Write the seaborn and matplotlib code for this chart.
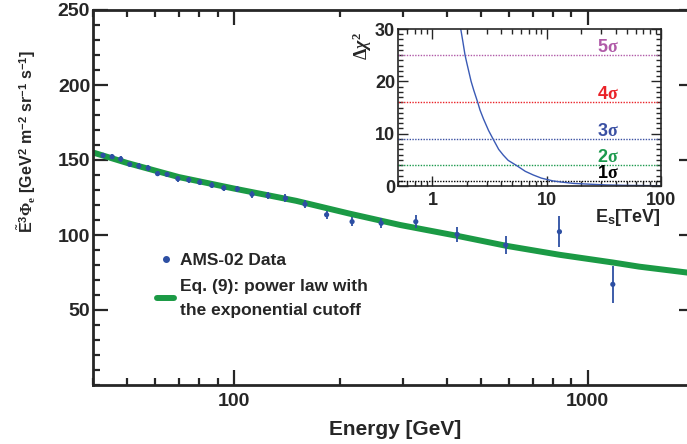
# AMS-02 electron+positron flux with power-law + exponential cutoff fit,
# inset: delta chi^2 vs cutoff energy

import matplotlib.pyplot as plt
import matplotlib.ticker as mticker
from matplotlib.lines import Line2D
import numpy as np
import pandas as pd
import seaborn as sns

# data
energy = [42.7, 45.3, 47.9, 50.8, 53.9, 57.3, 60.9, 64.8, 69.5, 74.6, 80.1, 86.7, 93.7,
          102.4, 112.6, 125, 140, 159, 183, 216, 261, 327, 428, 587, 833, 1179]
flux = [153.1, 152.2, 150.7, 147.1, 146.0, 144.7, 140.9, 140.4, 137.5, 136.7, 135.1, 133.1, 131.3,
        130.7, 127.1, 126.2, 124.5, 120.5, 113.5, 108.9, 107.8, 108.9, 100.4, 93.3, 102.2, 67.1]
flux_err = [1.8, 1.8, 1.8, 1.8, 1.8, 1.8, 1.9, 1.9, 1.9, 2.0, 2.0, 2.0, 2.1,
            2.1, 2.2, 2.3, 2.5, 2.6, 2.8, 3.0, 3.2, 4.1, 4.8, 6.3, 10.4, 12.3]

fit_energy = [40, 50, 70, 100, 150, 212, 295, 429, 589, 834, 1177, 1400, 2000]
fit_flux = [155, 148, 138.6, 131, 122.8, 114.3, 106.7, 99.4, 92.8, 86.8, 81.7, 78.9, 74.4]

es_tev = [1.65, 1.77, 1.85, 1.93, 2.0, 2.18, 2.3, 2.49, 2.61, 2.8, 3.1, 3.41, 3.8, 4.17, 4.6,
          5.46, 6.5, 7.64, 9.0, 11.4, 13.5, 17.1, 22, 33.5, 50, 100]
delta_chi2 = [33, 30, 27.5, 25, 23.5, 20, 18.3, 16, 14.5, 12.8, 10.6, 8.9, 7.0, 5.9, 4.9,
              3.9, 2.8, 2.1, 1.5, 0.96, 0.75, 0.5, 0.38, 0.2, 0.12, 0.05]

sigma_levels = [1, 4, 9, 16, 25]
sigma_names = [r'$\mathbf{1}\mathrm{\sigma}$', r'$\mathbf{2}\mathrm{\sigma}$', r'$\mathbf{3}\mathrm{\sigma}$',
               r'$\mathbf{4}\mathrm{\sigma}$', r'$\mathbf{5}\mathrm{\sigma}$']
sigma_colors = ['black', '#1d9a4e', '#3a50a3', '#ea2228', '#b05aa8']

data_blue = '#2d4fa3'
fit_green = '#1b9a45'

sns.set_style('ticks')
plt.rcParams['font.family'] = ['Liberation Sans', 'DejaVu Sans']
plt.rcParams['font.weight'] = 'bold'
plt.rcParams['mathtext.fontset'] = 'custom'
plt.rcParams['mathtext.rm'] = 'Liberation Serif'
plt.rcParams['mathtext.it'] = 'Liberation Serif:italic'
plt.rcParams['mathtext.bf'] = 'Liberation Sans:bold'

fig = plt.figure(figsize=(6.87, 4.44), dpi=100)
ax = fig.add_axes([93 / 687, 59 / 444, 601 / 687, 375 / 444])

df_fit = pd.DataFrame({'E': fit_energy, 'F': fit_flux})
sns.lineplot(data=df_fit, x='E', y='F', ax=ax, color=fit_green, lw=4.3, zorder=2)
ax.errorbar(energy, flux, yerr=flux_err, fmt='none', ecolor=data_blue, elinewidth=1.3, zorder=3)
sns.scatterplot(x=energy, y=flux, ax=ax, color=data_blue, s=14, edgecolor='none', zorder=4)

ax.set_xscale('log')
ax.set_xlim(40, 2000)
ax.set_ylim(0, 250)
ax.set_xticks([100, 1000])
ax.xaxis.set_major_formatter(mticker.FuncFormatter(lambda v, p: f'{v:g}'))
ax.xaxis.set_minor_locator(mticker.LogLocator(base=10, subs=np.arange(2, 10)))
ax.xaxis.set_minor_formatter(mticker.NullFormatter())
ax.set_yticks([50, 100, 150, 200, 250])
ax.yaxis.set_minor_locator(mticker.MultipleLocator(10))
ax.tick_params(which='both', direction='in', top=True, right=True, width=1.6, labelsize=14)
ax.tick_params(which='major', length=11)
ax.tick_params(which='minor', length=5)
ax.tick_params(axis='x', pad=6)
ax.tick_params(axis='y', pad=2)
for sp in ax.spines.values():
    sp.set_linewidth(2)

ax.set_xlabel('Energy [GeV]', fontsize=15, fontweight='bold')
ax.xaxis.set_label_coords(0.503, -0.093)
ax.set_ylabel(r'$\tilde{\mathbf{E}}^{\mathbf{3}}\Phi_{\mathrm{e}}$ [GeV$^{\mathbf{2}}$ m$^{\mathbf{-2}}$ sr$^{\mathbf{-1}}$ s$^{\mathbf{-1}}$]',
              fontsize=11.5, fontweight='bold')
ax.yaxis.set_label_coords(-0.092, 0.648)

handles = [Line2D([], [], marker='o', ls='none', color=data_blue, markersize=4),
           Line2D([], [], color=fit_green, lw=4.3)]
leg = ax.legend(handles, ['AMS-02 Data', 'Eq. (9): power law with\nthe exponential cutoff'],
                loc='upper left', bbox_to_anchor=((157 - 93) / 601, (385 - 253) / 375),
                frameon=False, borderpad=0, borderaxespad=0, handlelength=1.0,
                handletextpad=0.35, labelspacing=0.6,
                prop={'family': 'Liberation Sans', 'weight': 'bold', 'size': 12.5})
for t in leg.get_texts():
    t.set_linespacing(1.75)

# inset
ax_in = fig.add_axes([398 / 687, 258 / 444, 263 / 687, 157 / 444])
for lvl, col in zip(sigma_levels, sigma_colors):
    ax_in.axhline(lvl, color=col, ls=(0, (1, 1)), lw=1.0, zorder=1)
for lvl, name, col in zip(sigma_levels, sigma_names, sigma_colors):
    ax_in.text(34, lvl + 0.6, name, color=col, ha='center', va='baseline', fontsize=13)
df_in = pd.DataFrame({'Es': es_tev, 'dchi2': delta_chi2})
sns.lineplot(data=df_in, x='Es', y='dchi2', ax=ax_in, color='#3a5ab5', lw=1.0, zorder=2)

ax_in.set_xscale('log')
ax_in.set_xlim(0.5, 100)
ax_in.set_ylim(0, 30)
ax_in.set_xticks([1, 10, 100])
ax_in.xaxis.set_major_formatter(mticker.FuncFormatter(lambda v, p: f'{v:g}'))
ax_in.xaxis.set_minor_locator(mticker.LogLocator(base=10, subs=np.arange(2, 10)))
ax_in.xaxis.set_minor_formatter(mticker.NullFormatter())
ax_in.set_yticks([0, 10, 20, 30])
ax_in.yaxis.set_minor_locator(mticker.MultipleLocator(1))
ax_in.tick_params(which='both', direction='in', top=True, right=True, width=1.0, labelsize=13)
ax_in.tick_params(which='major', length=7)
ax_in.tick_params(which='minor', length=3.5)
ax_in.tick_params(axis='x', pad=4)
ax_in.tick_params(axis='y', pad=2)
for sp in ax_in.spines.values():
    sp.set_linewidth(1.2)

ax_in.set_xlabel(r'$\mathbf{E}_{\mathbf{s}}$[TeV]', fontsize=13, fontweight='bold')
ax_in.xaxis.set_label_coords(1.0, -0.135)
ax_in.xaxis.label.set_ha('right')
ax_in.set_ylabel(r'$\Delta\chi^{2}$', fontsize=13, fontweight='normal')
ax_in.yaxis.set_label_coords(-0.09, 0.89)

fig.savefig('out.png', dpi=100)
